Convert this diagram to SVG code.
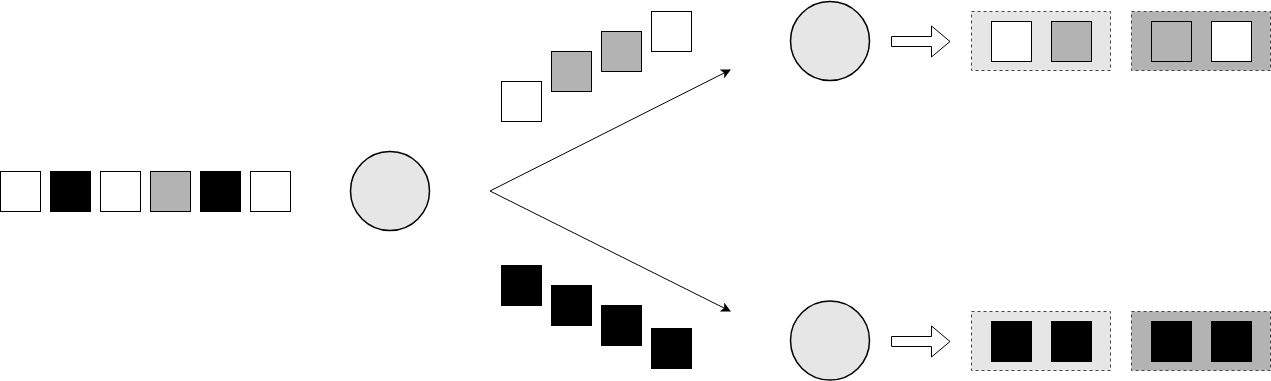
<svg xmlns="http://www.w3.org/2000/svg" width="1271" height="381" viewBox="0 0 1271 381">
<style>
.sq{stroke:#000;stroke-width:1}
.w{fill:#fff}
.g{fill:#b3b3b3}
.k{fill:#000}
.c{fill:#e6e6e6;stroke:#000;stroke-width:1.5}
.box{stroke:#444;stroke-width:1;stroke-dasharray:3 3}
.lb{fill:#e6e6e6}
.db{fill:#b3b3b3}
.ba{fill:#fff;stroke:#000;stroke-width:1}
.ln{fill:none;stroke:#000;stroke-width:1}
</style>
<defs>
<marker id="ah" viewBox="0 0 10 10" refX="9" refY="5" markerWidth="11" markerHeight="10" markerUnits="userSpaceOnUse" orient="auto">
<path d="M0,0 L10,5 L0,10 L2.5,5 Z" fill="#000"/>
</marker>
</defs>
<g id="input-row">
<rect class="sq w" x="0.5" y="171.5" width="40" height="40"/>
<rect class="sq k" x="50.5" y="171.5" width="40" height="40"/>
<rect class="sq w" x="100.5" y="171.5" width="40" height="40"/>
<rect class="sq g" x="150.5" y="171.5" width="40" height="40"/>
<rect class="sq k" x="200.5" y="171.5" width="40" height="40"/>
<rect class="sq w" x="250.5" y="171.5" width="40" height="40"/>
</g>
<g id="splitter"><circle class="c" cx="390" cy="191" r="39.5"/></g>
<g id="connectors">
<path class="ln" d="M490,191 L730,70" marker-end="url(#ah)"/>
<path class="ln" d="M490,191 L730,311" marker-end="url(#ah)"/>
</g>
<g id="upper-stream">
<rect class="sq w" x="501.5" y="81.5" width="40" height="40"/>
<rect class="sq g" x="551.5" y="51.5" width="40" height="40"/>
<rect class="sq g" x="601.5" y="31.5" width="40" height="40"/>
<rect class="sq w" x="651.5" y="11.5" width="40" height="40"/>
</g>
<g id="lower-stream">
<rect class="sq k" x="501.5" y="265.5" width="40" height="40"/>
<rect class="sq k" x="551.5" y="285.5" width="40" height="40"/>
<rect class="sq k" x="601.5" y="305.5" width="40" height="40"/>
<rect class="sq k" x="651.5" y="328.5" width="40" height="40"/>
</g>
<g id="upper-node"><circle class="c" cx="830" cy="41" r="39.5"/></g>
<g id="lower-node"><circle class="c" cx="830" cy="340.5" r="39.5"/></g>
<g id="upper-arrow"><path class="ba" d="M891.5,36.5 H931.5 V26 L950,41.5 L931.5,57 V46.5 H891.5 Z"/></g>
<g id="lower-arrow"><path class="ba" d="M891.5,336.5 H931.5 V326 L950,341.5 L931.5,357 V346.5 H891.5 Z"/></g>
<g id="upper-box-1">
<rect class="box lb" x="971.5" y="11.5" width="139" height="59"/>
<rect class="sq w" x="991.5" y="21.5" width="40" height="40"/>
<rect class="sq g" x="1051.5" y="21.5" width="40" height="40"/>
</g>
<g id="upper-box-2">
<rect class="box db" x="1131.5" y="11.5" width="139" height="59"/>
<rect class="sq g" x="1151.5" y="21.5" width="40" height="40"/>
<rect class="sq w" x="1211.5" y="21.5" width="40" height="40"/>
</g>
<g id="lower-box-1">
<rect class="box lb" x="971.5" y="311.5" width="139" height="59"/>
<rect class="sq k" x="991.5" y="321.5" width="40" height="40"/>
<rect class="sq k" x="1051.5" y="321.5" width="40" height="40"/>
</g>
<g id="lower-box-2">
<rect class="box db" x="1131.5" y="311.5" width="139" height="59"/>
<rect class="sq k" x="1151.5" y="321.5" width="40" height="40"/>
<rect class="sq k" x="1211.5" y="321.5" width="40" height="40"/>
</g>
</svg>
